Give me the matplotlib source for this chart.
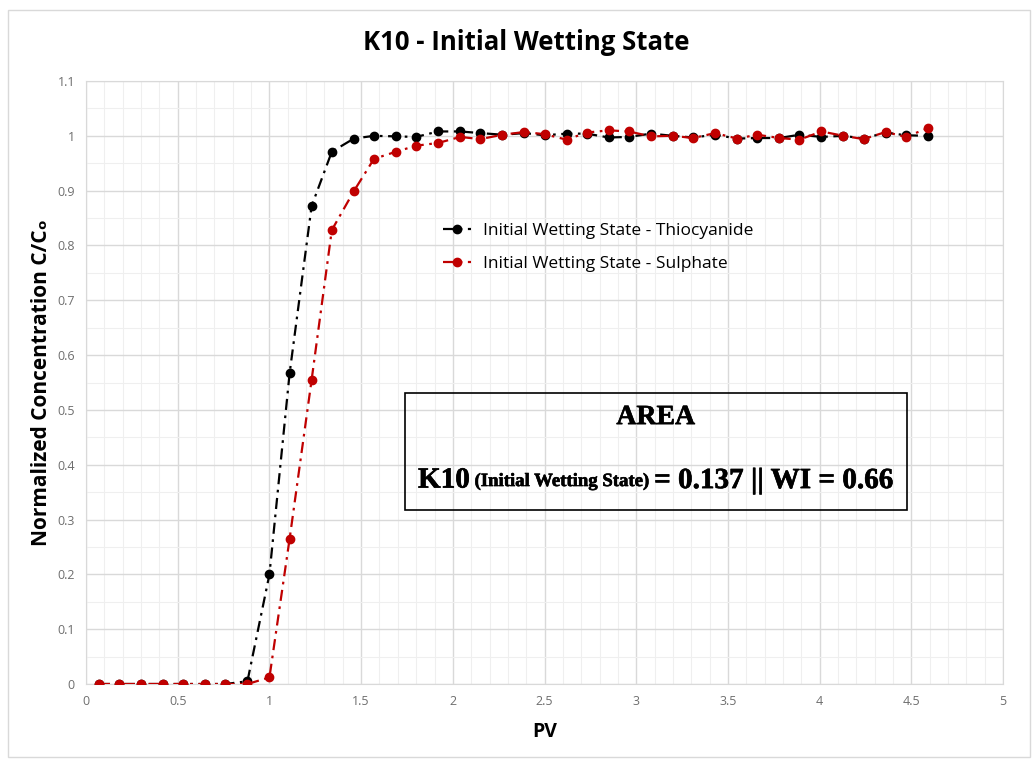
import matplotlib
matplotlib.use("Agg")
import matplotlib.pyplot as plt
import matplotlib.patheffects as pe
from matplotlib.patches import Rectangle
from matplotlib.ticker import MultipleLocator

plt.rcParams['font.family'] = ['Open Sans', 'DejaVu Sans']

pv = [0.07, 0.18, 0.30, 0.42, 0.53, 0.65, 0.76, 0.88, 1.00, 1.11,
      1.23, 1.34, 1.46, 1.57, 1.69, 1.80, 1.92, 2.04, 2.15, 2.27,
      2.39, 2.50, 2.62, 2.73, 2.85, 2.96, 3.08, 3.20, 3.31, 3.43,
      3.55, 3.66, 3.78, 3.89, 4.01, 4.13, 4.24, 4.36, 4.47, 4.59]

thiocyanide = [0, 0, 0, 0, 0, 0, 0, 0.005, 0.2, 0.567,
               0.872, 0.971, 0.995, 1.0, 0.999, 0.998, 1.008, 1.008, 1.005, 1.002,
               1.005, 1.001, 1.004, 1.004, 0.997, 0.998, 1.004, 1.0, 0.997, 1.002,
               0.995, 0.996, 0.996, 1.002, 0.998, 1.0, 0.995, 1.006, 1.001, 1.0]

sulphate = [0, 0, 0, 0, 0, 0, 0, 0, 0.012, 0.265,
            0.555, 0.828, 0.899, 0.958, 0.971, 0.982, 0.987, 0.998, 0.994, 1.002,
            1.007, 1.003, 0.993, 1.006, 1.010, 1.008, 0.999, 1.0, 0.996, 1.005,
            0.995, 1.002, 0.996, 0.993, 1.008, 1.0, 0.994, 1.007, 0.998, 1.014]

labels = ["Initial Wetting State - Thiocyanide", "Initial Wetting State - Sulphate"]

fig = plt.figure(figsize=(10.33, 7.6), dpi=100)
ax = fig.add_axes([0.0833, 0.1, 0.8877, 0.7934])

# faint frame round the whole chart
fig.patches.append(Rectangle((8/1033, 3/760), 1022/1033, 747/760, transform=fig.transFigure,
                             fill=False, edgecolor='#d9d9d9', linewidth=1))

dashdot = (0, (5, 2.5, 1.2, 2.5))
ax.plot(pv, thiocyanide, color='black', linestyle=dashdot, linewidth=1.6,
        marker='o', markersize=6, label=labels[0], zorder=3)
ax.plot(pv, sulphate, color='#c00000', linestyle=dashdot, linewidth=1.6,
        marker='o', markersize=6, label=labels[1], zorder=4)

ax.set_xlim(0, 5)
ax.set_ylim(0, 1.1)
ax.xaxis.set_major_locator(MultipleLocator(0.5))
ax.xaxis.set_minor_locator(MultipleLocator(0.1))
ax.yaxis.set_major_locator(MultipleLocator(0.1))
ax.yaxis.set_minor_locator(MultipleLocator(0.05))
ax.xaxis.set_major_formatter(plt.FuncFormatter(lambda v, p: f"{v:g}"))
ax.yaxis.set_major_formatter(plt.FuncFormatter(lambda v, p: f"{v:g}"))

ax.grid(which='major', color='#d9d9d9', linewidth=1)
ax.grid(which='minor', color='#efefef', linewidth=0.8)
ax.set_axisbelow(True)
for s in ax.spines.values():
    s.set_color('#d9d9d9')
ax.tick_params(which='both', length=0, colors='#6e6e6e', labelsize=9, pad=8)

fig.text(526/1033, 1 - 42/760, "K10 - Initial Wetting State", ha='center', va='center',
         fontsize=18.5, fontweight='bold')
ax.set_xlabel("PV", fontsize=14, fontweight='bold', labelpad=10)
ax.set_ylabel("Normalized Concentration C/Cₒ", fontsize=15, fontweight='bold', labelpad=4)

ax.legend(loc='upper left', bbox_to_anchor=(0.372, 0.79), frameon=False, fontsize=12.5,
          handlelength=1.6, handletextpad=0.7, labelspacing=0.95)

# text box with the area result
bold = [pe.withStroke(linewidth=0.45, foreground='black')]
serif = dict(family='Liberation Serif', fontweight='bold', path_effects=bold, zorder=6)
ax.add_patch(Rectangle((1.738, 0.3175), 2.736, 0.2135, facecolor='none',
                       edgecolor='black', linewidth=1.2, zorder=5))
ax.text(3.106, 0.486, "AREA", ha='center', va='center', fontsize=20, **serif)
first = ax.annotate("K10", xy=(1.81, 0.372), xycoords='data', va='center', ha='left',
                    fontsize=21, **serif)
mid = ax.annotate(" (Initial Wetting State) ", xycoords=first, xy=(1, 0.45), va='center',
                  ha='left', fontsize=13.5, **serif)
ax.annotate("= 0.137 || WI = 0.66", xycoords=mid, xy=(1, 0.55), va='center', ha='left',
            fontsize=21, **serif)

fig.savefig("out.png", dpi=100)
